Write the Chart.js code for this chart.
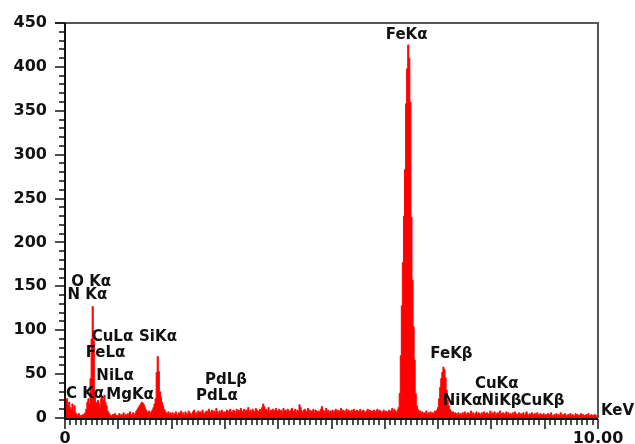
<!DOCTYPE html>
<html><head><meta charset="utf-8">
<script src="https://cdn.jsdelivr.net/npm/chart.js@4.4.0/dist/chart.umd.min.js"></script>
<style>html,body{margin:0;padding:0;background:#fff;overflow:hidden;}canvas{display:block;}</style>
</head><body>
<canvas id="c" width="635" height="444"></canvas>
<script>
// Channel width of the EDS spectrum (keV per channel), first channel at 0 keV
const channelKeV = 0.02;
// Counts per channel, one row per keV (50 channels each)
const counts0 = [8,20,22,14,18,12,10,16,8,14, 6,4,3,5,2,3,2,4,3,6, 10,18,22,16,45,90,127,88,30,18, 14,20,16,12,22,24,20,26,18,14, 8,6,4,3,2,4,2,5,3,2];
const counts1 = [3,5,2,4,3,6,2,4,3,5, 4,7,4,3,6,4,5,8,10,12, 14,16,18,17,15,12,9,7,6,8, 5,7,9,12,16,22,52,70,53,30, 24,18,14,10,8,6,5,7,4,6];
const counts2 = [4,6,3,5,7,4,3,6,5,8, 4,6,3,7,5,4,8,6,5,3, 7,9,5,6,4,8,6,7,5,9, 6,4,7,8,5,10,6,7,9,5, 8,6,11,7,5,8,6,9,7,6];
const counts3 = [7,5,9,6,8,10,7,6,9,8, 5,10,7,9,6,11,8,7,10,6, 9,8,12,7,9,6,10,8,7,11, 9,6,8,10,7,12,16,13,9,10, 8,12,6,9,8,10,7,9,11,8];
const counts4 = [8,10,7,9,6,11,8,9,7,10, 8,6,9,11,7,8,10,6,9,7, 15,12,8,6,9,10,7,8,11,6, 9,7,8,10,6,9,8,7,8,6, 10,13,9,8,6,11,7,9,6,8];
const counts5 = [7,9,6,8,10,7,9,6,8,11, 7,9,8,6,10,7,9,8,6,9, 7,10,8,6,9,7,8,10,6,8, 9,7,6,8,10,7,9,6,8,7, 9,6,8,10,7,9,8,6,7,9];
const counts6 = [6,8,5,7,9,6,8,11,7,10, 8,6,9,12,28,71,128,177,230,283, 358,398,425,410,360,229,157,104,66,28, 14,10,6,8,5,7,4,6,5,8, 4,6,5,7,4,6,5,8,7,9];
const counts7 = [12,22,35,45,52,58,55,46,32,20, 14,10,8,6,7,4,6,5,3,6, 4,5,3,6,4,7,5,3,6,4, 5,8,4,6,3,5,7,4,6,5, 3,6,4,7,5,3,6,4,5,8];
const counts8 = [4,6,5,7,3,5,6,4,8,5, 3,6,4,5,7,3,6,4,5,3, 6,4,7,5,3,4,6,3,5,4, 6,3,5,7,4,3,5,4,6,3, 4,5,3,6,4,3,5,4,3,5];
const counts9 = [3,4,2,5,3,4,6,3,2,4, 3,5,2,4,3,6,2,4,3,5, 3,2,4,3,5,2,4,3,2,5, 3,4,2,3,5,2,4,3,2,4, 3,5,2,3,4,2,3,4,2,3, 2];

// Axis ticks
const yTickValues = [0,50,100,150,200,250,300,350,400,450];
const yMinorStep = 10;
const xTickValues = [0,10];
const xTickLabels = ['0','10.00'];
const xMinorStep = 0.1;
const xMajorStep = 1;
const xUnitLabel = 'KeV';

// Peak annotations (label, keV, counts at label centre)
const peakNames = ['O Kα','N Kα','CuLα','FeLα','NiLα','C Kα','MgKα','SiKα','PdLβ','PdLα','FeKα','FeKβ','CuKα','NiKα','NiKβ','CuKβ'];
const peakKeV   = [0.49, 0.42, 0.89, 0.76, 0.94, 0.375, 1.22, 1.745, 3.02, 2.85, 6.41, 7.25, 8.10, 7.46, 8.19, 8.96];
const peakCount = [155, 139.5, 91.7, 73.5, 47.8, 26.8, 26.2, 91.7, 42.7, 24.5, 436.3, 72.9, 38.7, 19.4, 19.4, 19.4];

const counts = [].concat(counts0,counts1,counts2,counts3,counts4,counts5,counts6,counts7,counts8,counts9);
const points = counts.map((c,i)=>({x: +(i*channelKeV).toFixed(2), y: c}));

const FONT = '"DejaVu Sans", sans-serif';
const yMax = yTickValues[yTickValues.length-1];

const decor = {
  id: 'decor',
  afterDraw(chart){
    const {ctx, chartArea:a, scales:{x, y}} = chart;
    ctx.save();
    // frame top & right
    ctx.strokeStyle = '#555'; ctx.lineWidth = 2;
    ctx.beginPath();
    ctx.moveTo(a.left-10, a.top); ctx.lineTo(a.right, a.top); ctx.lineTo(a.right, a.bottom);
    ctx.stroke();
    // axes lines
    ctx.strokeStyle = '#111'; ctx.lineWidth = 2;
    ctx.beginPath();
    ctx.moveTo(a.left, a.top); ctx.lineTo(a.left, a.bottom+1); ctx.lineTo(a.right, a.bottom+1);
    ctx.stroke();
    // y ticks
    ctx.lineWidth = 1.5;
    for (let v = 0; v <= yMax; v += yMinorStep) {
      const py = Math.round(y.getPixelForValue(v));
      const len = yTickValues.includes(v) ? 10 : 6;
      ctx.beginPath(); ctx.moveTo(a.left-len, py); ctx.lineTo(a.left, py); ctx.stroke();
    }
    // x ticks
    const n = Math.round((x.max - x.min)/xMinorStep);
    for (let k = 0; k <= n; k++) {
      const v = x.min + k*xMinorStep;
      const px = Math.round(x.getPixelForValue(v));
      const major = Math.abs(v/xMajorStep - Math.round(v/xMajorStep)) < 1e-6;
      const len = major ? 10 : 6;
      ctx.beginPath(); ctx.moveTo(px, a.bottom+1); ctx.lineTo(px, a.bottom+1+len); ctx.stroke();
    }
    // peak labels
    ctx.font = 'bold 15px ' + FONT;
    ctx.fillStyle = '#111';
    ctx.textAlign = 'center'; ctx.textBaseline = 'middle';
    peakNames.forEach((name, i) => {
      ctx.fillText(name, x.getPixelForValue(peakKeV[i]), y.getPixelForValue(peakCount[i]));
    });
    ctx.textAlign = 'left';
    ctx.fillText(xUnitLabel, a.right + 3, a.bottom - 7);
    ctx.restore();
  }
};

new Chart(document.getElementById('c'), {
  type: 'line',
  data: { datasets: [{
    data: points,
    stepped: 'middle',
    fill: 'origin',
    backgroundColor: '#ff0000',
    borderColor: '#ff0000',
    borderWidth: 1,
    pointRadius: 0,
    tension: 0
  }]},
  options: {
    responsive: false,
    animation: false,
    devicePixelRatio: 1,
    layout: { padding: { top: 23, right: 37, left: 0, bottom: 0 } },
    plugins: { legend: { display: false }, tooltip: { enabled: false } },
    scales: {
      x: {
        type: 'linear', min: 0, max: 10,
        afterBuildTicks(s){ s.ticks = xTickValues.map(v => ({value: v})); },
        ticks: {
          callback: (v) => xTickLabels[xTickValues.indexOf(v)],
          font: { family: FONT, size: 16, weight: 'bold' }, color: '#111',
          padding: 5, maxRotation: 0, autoSkip: false
        },
        grid: { display: true, drawOnChartArea: false, tickLength: 6, color: 'rgba(0,0,0,0)' },
        border: { display: false },
        afterFit(s){ s.height = 26; }
      },
      y: {
        min: 0, max: yMax,
        afterBuildTicks(s){ s.ticks = yTickValues.map(v => ({value: v})); },
        ticks: { font: { family: FONT, size: 16, weight: 'bold' }, color: '#111', padding: 8 },
        grid: { display: true, drawOnChartArea: false, tickLength: 10, color: 'rgba(0,0,0,0)' },
        border: { display: false },
        afterFit(s){ s.width = 65; }
      }
    }
  },
  plugins: [decor]
});
</script>
</body></html>
